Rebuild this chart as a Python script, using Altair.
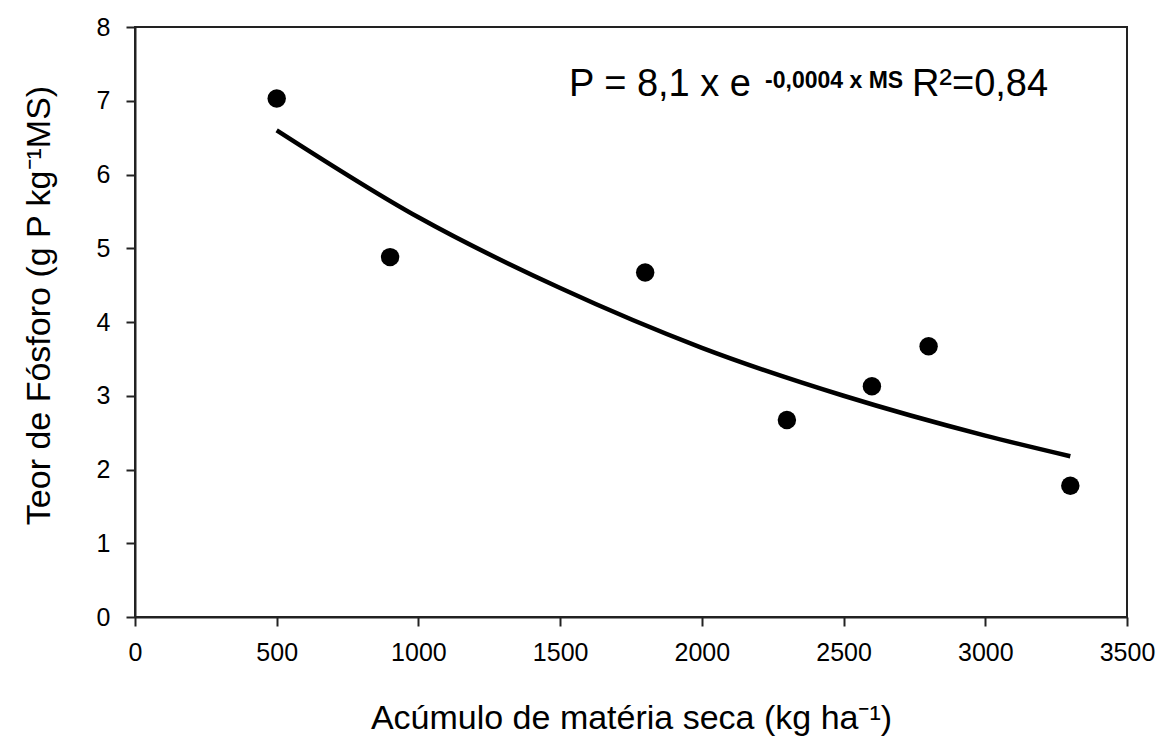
import altair as alt
import pandas as pd

# Data
ms = [500, 900, 1800, 2300, 2600, 2800, 3300]          # Acúmulo de matéria seca (kg/ha)
p_teor = [7.03, 4.88, 4.67, 2.67, 3.13, 3.67, 1.78]    # Teor de fósforo (g P/kg MS)

# Fitted curve
curve_x = [500, 1000, 1500, 2000, 2500, 3000, 3300]
curve_y = [6.60, 5.42, 4.46, 3.65, 3.00, 2.46, 2.18]

x_ticks = [0, 500, 1000, 1500, 2000, 2500, 3000, 3500]
y_ticks = [0, 1, 2, 3, 4, 5, 6, 7, 8]

ann_text = ["P = 8,1 x e", "-0,0004 x MS", "R²=0,84"]
ann_x = [1531, 2223, 2741]
ann_y = [7.06, 7.17, 7.06]
ann_size = [38, 23, 38]

FONT = "Liberation Sans"

df = pd.DataFrame({"x": ms, "y": p_teor})
cf = pd.DataFrame({"x": curve_x, "y": curve_y})
ann = pd.DataFrame({"t": ann_text, "x": ann_x, "y": ann_y, "s": ann_size})

xscale = alt.Scale(domain=[0, 3500], nice=False, zero=False)
yscale = alt.Scale(domain=[0, 8], nice=False)

xaxis = alt.Axis(values=x_ticks, title="Acúmulo de matéria seca (kg ha⁻¹)", format="d",
                 grid=False, tickSize=9, labelPadding=14, titlePadding=36,
                 labelFontSize=25, titleFontSize=34, labelFlush=False)
yaxis = alt.Axis(values=y_ticks, title="Teor de Fósforo (g P kg⁻¹MS)", format="d",
                 grid=False, tickSize=9, labelPadding=16, titlePadding=40,
                 labelFontSize=25, titleFontSize=34, titleY=278)

points = alt.Chart(df).mark_point(filled=True, color="black", opacity=1, size=340, shape="circle").encode(
    x=alt.X("x:Q", scale=xscale, axis=xaxis),
    y=alt.Y("y:Q", scale=yscale, axis=yaxis),
)

curve = alt.Chart(cf).mark_line(color="black", strokeWidth=4.5, interpolate="monotone").encode(
    x=alt.X("x:Q", scale=xscale),
    y=alt.Y("y:Q", scale=yscale),
)

big = alt.Chart(ann).transform_filter("datum.s > 25").mark_text(
    align="left", baseline="alphabetic", font=FONT, fontSize=38, color="black"
).encode(x=alt.X("x:Q", scale=xscale), y=alt.Y("y:Q", scale=yscale), text="t:N")

small = alt.Chart(ann).transform_filter("datum.s < 25").mark_text(
    align="left", baseline="alphabetic", font=FONT, fontSize=23, fontWeight="bold", color="black"
).encode(x=alt.X("x:Q", scale=xscale), y=alt.Y("y:Q", scale=yscale), text="t:N")

chart = alt.layer(curve, points, big, small).properties(
    width=992, height=590,
    autosize=alt.AutoSizeParams(type="none"),
    padding={"left": 135, "top": 27, "right": 38, "bottom": 123},
    background="white",
).configure_view(
    stroke="#222", strokeWidth=2
).configure_axis(
    labelFont=FONT, titleFont=FONT, labelColor="black", titleColor="black",
    titleFontWeight="normal", domainColor="#222", domainWidth=2,
    tickColor="#222", tickWidth=2
)

chart.save("out.html", embed_options={"renderer": "svg", "actions": False})
